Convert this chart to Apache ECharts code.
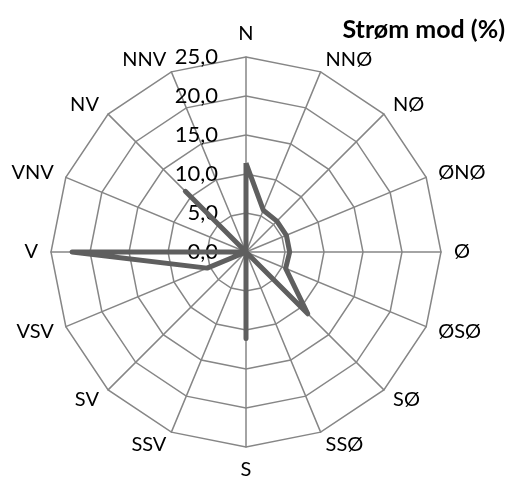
<!DOCTYPE html>
<html>
<head>
<meta charset="utf-8">
<script src="https://cdn.jsdelivr.net/npm/echarts@6/dist/echarts.min.js"></script>
<style>
html, body { margin: 0; padding: 0; background: #fff; }
#main { width: 515px; height: 477px; }
</style>
</head>
<body>
<div id="main"></div>
<script>
// directions clockwise from north
var directions = ['N', 'NNØ', 'NØ', 'ØNØ', 'Ø', 'ØSØ', 'SØ', 'SSØ', 'S', 'SSV', 'SV', 'VSV', 'V', 'VNV', 'NV', 'NNV'];
var stromMod = [11.4, 5.8, 5.6, 5.6, 5.6, 5.5, 11.2, 0, 11.1, 0, 0, 5.4, 22.3, 0, 11.0, 0];
var maxValue = 25;

var myChart = echarts.init(document.getElementById('main'));

// echarts radar runs counter-clockwise, so flip the order after N
var order = [0];
for (var i = directions.length - 1; i > 0; i--) order.push(i);

var indicators = order.map(function (idx, k) {
    var ind = { name: directions[idx], max: maxValue, min: 0 };
    if (k === 0) {
        ind.axisLabel = {
            show: true,
            color: '#000',
            fontSize: 22,
            fontFamily: 'Lato',
            margin: 28,
            formatter: function (v) { return v.toFixed(1).replace('.', ','); }
        };
    }
    return ind;
});

var option = {
    title: {
        text: 'Strøm mod (%)',
        right: 5,
        top: 12,
        textStyle: { fontSize: 25, fontWeight: 'bold', fontFamily: 'Lato', color: '#000' }
    },
    radar: {
        center: [246, 252],
        radius: 195,
        shape: 'polygon',
        splitNumber: 5,
        nameGap: 13,
        axisName: { color: '#000', fontSize: 20, fontFamily: 'Lato' },
        axisLine: { lineStyle: { color: '#868686', width: 1.5 } },
        splitLine: { lineStyle: { color: '#868686', width: 1.5 } },
        splitArea: { show: false },
        axisTick: { show: false },
        axisLabel: { show: false },
        indicator: indicators
    },
    series: [{
        name: 'Strøm mod (%)',
        type: 'radar',
        symbol: 'none',
        lineStyle: { color: '#5f5f5f', width: 5 },
        data: [{ value: order.map(function (idx) { return stromMod[idx]; }) }]
    }]
};

myChart.setOption(option);
</script>
</body>
</html>
